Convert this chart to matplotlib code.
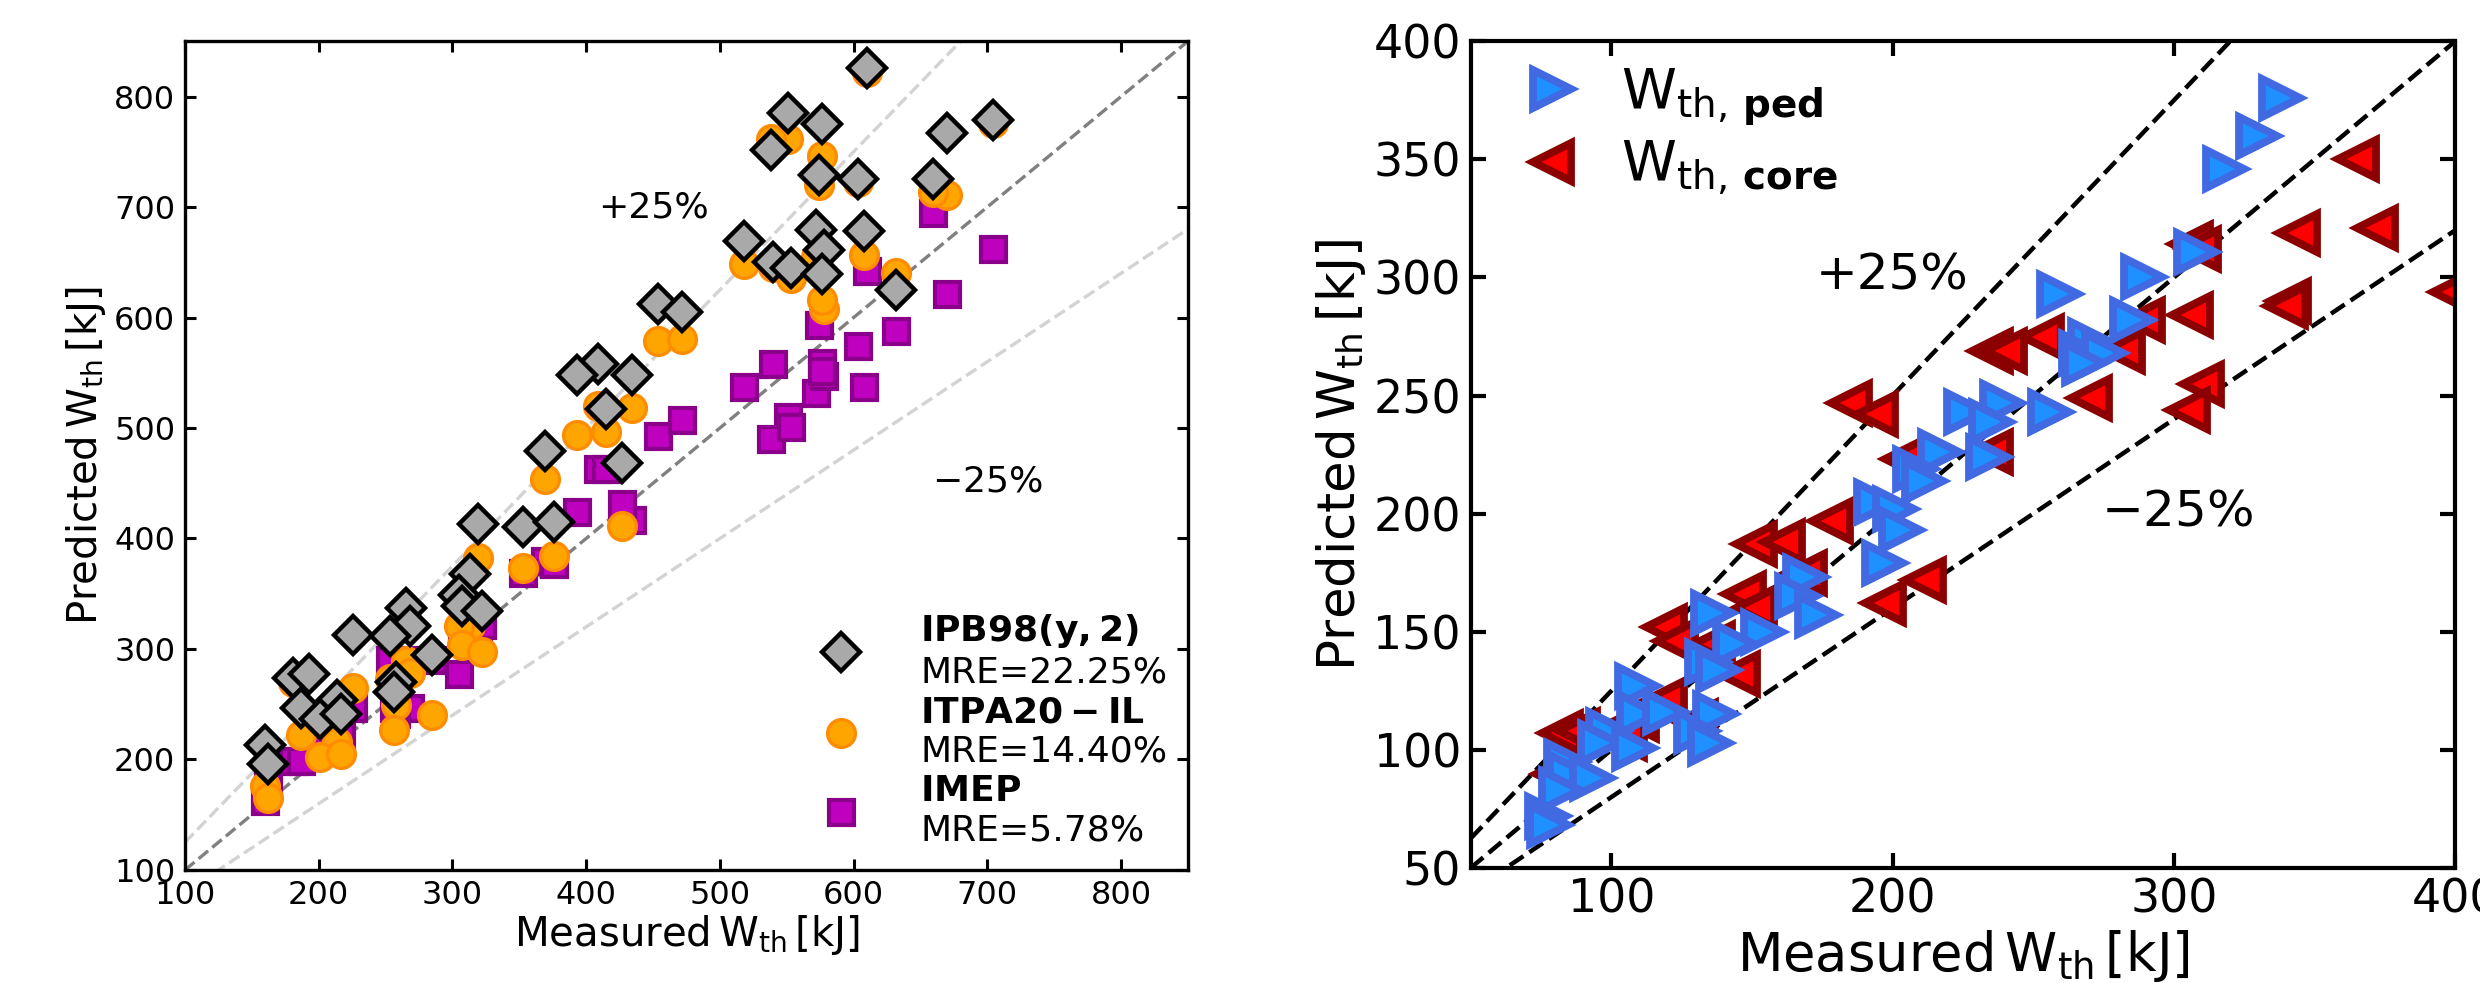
import matplotlib.pyplot as plt
import numpy as np

plt.rcParams['mathtext.default'] = 'regular'

# ---- left panel: measured vs predicted W_th for three scalings ----
meas = [610, 608, 551, 576, 538, 704, 670, 574, 603, 659, 518, 572, 578, 540,
        553, 576, 632, 454, 472, 409, 393, 434, 415, 369, 427, 319, 353, 376,
        313, 305, 307, 322, 265, 268, 226, 253, 285, 258, 256, 181, 193, 187,
        214, 201, 217, 160, 162]
ipb98 = [826, 678, 785, 775, 752, 779, 767, 729, 725, 725, 669, 679, 661, 650,
         645, 639, 625, 612, 605, 558, 548, 548, 517, 479, 468, 413, 410, 415,
         368, 349, 339, 334, 337, 321, 313, 312, 295, 270, 261, 274, 277, 247,
         254, 237, 241, 213, 196]
itpa20 = [822, 657, 762, 746, 762, 776, 711, 720, 723, 714, 648, 655, 608, 646,
          636, 616, 640, 579, 581, 520, 494, 518, 496, 454, 411, 382, 373, 384,
          321, 321, 304, 297, 289, 278, 265, 273, 240, 249, 227, 270, 235, 222,
          216, 202, 205, 176, 165]
imep = [642, 537, 510, 559, 490, 662, 621, 593, 574, 695, 537, 532, 547, 558,
        501, 552, 588, 493, 507, 463, 424, 417, 463, 380, 431, 318, 369, 377,
        320, 277, 310, 322, 290, 247, 247, 290, 290, 241, 247, 199, 205, 199,
        216, 210, 220, 162, 182]
mre = {'ipb': '22.25%', 'itpa': '14.40%', 'imep': '5.78%'}

# ---- right panel: pedestal and core contributions ----
ped_meas = [338, 330, 318, 308, 289, 259, 285, 270, 267, 275, 268, 226, 239, 256,
            235, 234, 217, 208, 211, 194, 201, 203, 197, 169, 166, 173, 136, 154,
            144, 134, 138, 109, 110, 119, 137, 130, 135, 99, 96, 108, 84, 85, 93,
            82, 77, 78]
ped_pred = [376, 360, 346, 311, 300, 293, 282, 273, 268, 268, 264, 243, 247, 243,
            239, 224, 226, 219, 214, 205, 202, 193, 179, 173, 165, 157, 158, 150,
            145, 137, 134, 127, 115, 116, 115, 108, 103, 108, 103, 101, 95, 90, 88,
            83, 72, 68]
core_meas = [365, 372, 344, 306, 309, 341, 340, 306, 289, 282, 270, 253, 235, 240,
             310, 305, 185, 194, 235, 204, 178, 151, 161, 169, 147, 151, 197, 211,
             119, 123, 145, 136, 119, 109, 130, 82, 88, 105, 80, 399]
core_pred = [350, 321, 319, 314, 312, 290, 288, 284, 282, 269, 249, 275, 269, 269,
             255, 244, 247, 242, 226, 223, 197, 187, 188, 175, 166, 160, 162, 172,
             152, 146, 132, 145, 121, 113, 112, 107, 108, 105, 90, 294]

fig = plt.figure(figsize=(12.4, 4.915), dpi=200)

# left
ax1 = fig.add_axes([0.0746, 0.115, 0.4044, 0.843])
xx = np.array([100, 850])
ax1.plot(xx, xx, '--', color='gray', lw=1.2)
ax1.plot(xx, 1.25 * xx, '--', color='lightgray', lw=1.2)
ax1.plot(xx, 0.8 * xx, '--', color='lightgray', lw=1.2)

h3, = ax1.plot(meas, imep, 's', ms=9, mfc='m', mec='darkmagenta', mew=1.5)
h2, = ax1.plot(meas, itpa20, 'o', ms=10, mfc='orange', mec='darkorange', mew=1.2)
h1, = ax1.plot(meas, ipb98, 'D', ms=9.5, mfc='darkgray', mec='k', mew=1.6)

ax1.legend([h1, h2, h3],
           [r'$\mathbf{IPB98(y,2)}$' + '\nMRE=' + mre['ipb'],
            r'$\mathbf{ITPA20-IL}$' + '\nMRE=' + mre['itpa'],
            r'$\mathbf{IMEP}$' + '\nMRE=' + mre['imep']],
           loc='lower right', bbox_to_anchor=(1.012, -0.012), frameon=False,
           fontsize=13, handletextpad=1.2, labelspacing=0.15)
ax1.text(450, 700, '+25%', fontsize=13, ha='center', va='center')
ax1.text(700, 452, r'$-$25%', fontsize=13, ha='center', va='center')

ax1.set_xlim(100, 850)
ax1.set_ylim(100, 850)
ax1.set_xticks(range(100, 900, 100))
ax1.set_yticks(range(100, 900, 100))
ax1.set_xlabel(r'Measured$\,W_{th}\,$[kJ]', fontsize=14.5, labelpad=1)
ax1.set_ylabel(r'Predicted$\,W_{th}\,$[kJ]', fontsize=14.5, labelpad=2)
ax1.tick_params(direction='in', top=True, right=True, labelsize=11.5,
                length=4, width=1.1)
for s in ax1.spines.values():
    s.set_linewidth(1.2)

# right
ax2 = fig.add_axes([0.593, 0.117, 0.397, 0.841])
xr = np.array([50, 400])
ax2.plot(xr, xr, '--', color='k', lw=1.6)
ax2.plot(xr, 1.25 * xr, '--', color='k', lw=1.6)
ax2.plot(xr, 0.8 * xr, '--', color='k', lw=1.6)

hc, = ax2.plot(core_meas, core_pred, '<', ms=14, mfc='red', mec='darkred', mew=2.8)
hp, = ax2.plot(ped_meas, ped_pred, '>', ms=14, mfc='dodgerblue', mec='royalblue',
               mew=2.8)
ax2.legend([hp, hc],
           [r'$W_{th,\,\mathbf{ped}}$', r'$W_{th,\,\mathbf{core}}$'],
           loc='upper left', bbox_to_anchor=(-0.025, 1.03), frameon=False,
           fontsize=20, handletextpad=0.25, labelspacing=0.2)
ax2.text(200, 301, '+25%', fontsize=18, ha='center', va='center')
ax2.text(301, 201, r'$-$25%', fontsize=18, ha='center', va='center')

ax2.set_xlim(50, 400)
ax2.set_ylim(50, 400)
ax2.set_xticks([100, 200, 300, 400])
ax2.set_yticks(range(50, 450, 50))
ax2.set_xlabel(r'Measured$\,W_{th}\,$[kJ]', fontsize=19, labelpad=2)
ax2.set_ylabel(r'Predicted$\,W_{th}\,$[kJ]', fontsize=18.5, labelpad=2)
ax2.tick_params(direction='in', top=True, right=True, labelsize=16.5,
                length=5.5, width=1.5)
for s in ax2.spines.values():
    s.set_linewidth(1.5)

fig.savefig('out.png', dpi=200)
